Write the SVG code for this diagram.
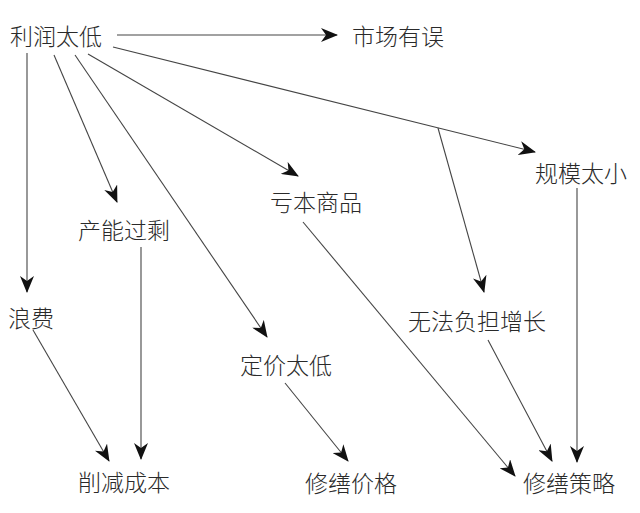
<svg xmlns="http://www.w3.org/2000/svg" width="640" height="513" viewBox="0 0 640 513">
<defs>
<style>
.lbl{font-family:"Noto Sans CJK SC","Liberation Sans",sans-serif;font-size:23px;font-weight:300;fill:#2a2a2a;dominant-baseline:central}
.edge{stroke:#444;stroke-width:1.1;fill:none;marker-end:url(#ah)}
</style>
<marker id="ah" markerUnits="userSpaceOnUse" markerWidth="17" markerHeight="14" viewBox="0 0 17 14" refX="16" refY="7" orient="auto">
<path d="M0,0 L17,7 L0,14 L5,7 z" fill="#111"/>
</marker>
</defs>
<rect width="640" height="513" fill="#fff"/>
<g id="connectors">
<path class="edge" d="M117,35 L337,35"/>
<path class="edge" d="M113,47 L535,152"/>
<path d="M438,128 L484,292" class="edge"/>
<path class="edge" d="M27,53 L27,292"/>
<path class="edge" d="M54,55 L117,202"/>
<path class="edge" d="M75,55 L267,337"/>
<path class="edge" d="M88,54 L298,176"/>
<path class="edge" d="M33,330 L109,461"/>
<path class="edge" d="M141,247 L141,459"/>
<path class="edge" d="M285,383 L348,461"/>
<path class="edge" d="M303,222 L515,476"/>
<path class="edge" d="M488,340 L552,461"/>
<path class="edge" d="M577,188 L577,462"/>
</g>
<g id="n_lirun"><text class="lbl" x="10" y="35">利润太低</text></g>
<g id="n_shichang"><text class="lbl" x="352" y="35">市场有误</text></g>
<g id="n_guimo"><text class="lbl" x="535" y="172">规模太小</text></g>
<g id="n_kuiben"><text class="lbl" x="270" y="201">亏本商品</text></g>
<g id="n_channeng"><text class="lbl" x="78" y="229">产能过剩</text></g>
<g id="n_langfei"><text class="lbl" x="8" y="317">浪费</text></g>
<g id="n_wufa"><text class="lbl" x="408" y="320">无法负担增长</text></g>
<g id="n_dingjia"><text class="lbl" x="240" y="364">定价太低</text></g>
<g id="n_xuejian"><text class="lbl" x="78" y="481">削减成本</text></g>
<g id="n_jiage"><text class="lbl" x="305" y="482">修缮价格</text></g>
<g id="n_celue"><text class="lbl" x="523" y="482">修缮策略</text></g>
</svg>
